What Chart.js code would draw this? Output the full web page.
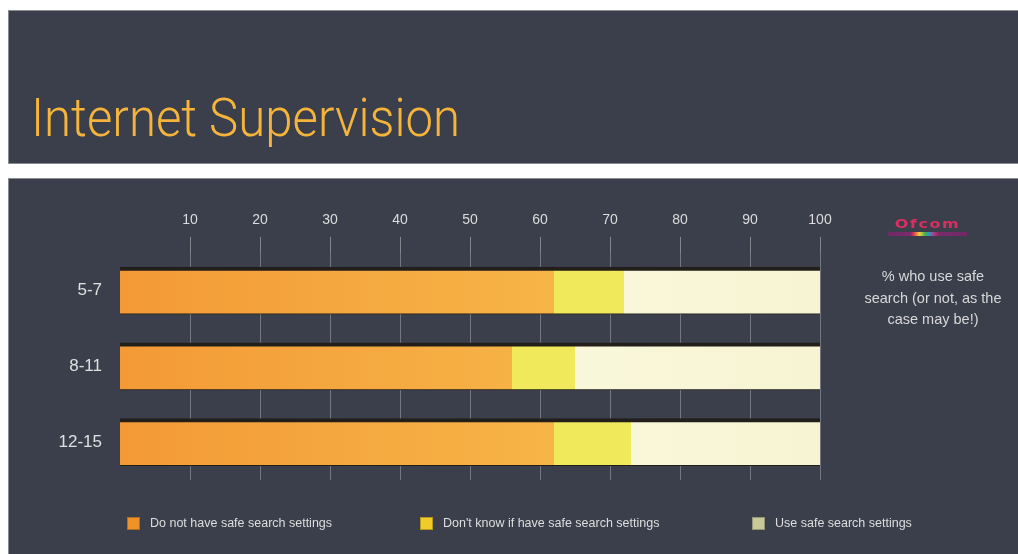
<!DOCTYPE html>
<html>
<head>
<meta charset="utf-8">
<script src="https://cdn.jsdelivr.net/npm/chart.js@4.4.1/dist/chart.umd.min.js"></script>
<style>
  html, body { margin: 0; padding: 0; background: #fff; }
  body { width: 1018px; height: 554px; position: relative; overflow: hidden; font-family: "Liberation Sans", Arial, sans-serif; }
  .panel { position: absolute; left: 8px; right: 0; background: #3b3f4c; border: 1px solid #8a8c94; border-right: none; }
  .top { top: 10px; height: 152px; }
  .bottom { top: 178px; height: 380px; border-bottom: none; }
  .title { position: absolute; left: 31px; top: 86px; font-family: Roboto, "Open Sans", sans-serif; font-weight: 300; font-size: 54px; color: #f6b53a; transform: scaleX(0.91); transform-origin: 0 0; white-space: nowrap; }
  #wrap { position: absolute; left: 8px; top: 178px; width: 1010px; height: 376px; }
  .logo { position: absolute; left: 888px; top: 216px; width: 79px; text-align: center; }
  .logo .word { font-family: "DejaVu Sans", sans-serif; font-weight: bold; font-size: 16px; color: #d62f60; letter-spacing: 1.6px; line-height: 16px; transform: scaleY(0.8); }
  .logo .bar { height: 4px; margin-top: 0; background: linear-gradient(90deg, #6f2a66 0%, #7b2a6c 28%, #d8344a 32%, #f1cf3a 40%, #3fb24f 47%, #2e8fd8 53%, #c23576 58%, #7b2a6c 64%, #6f2a66 100%); }
  .note { position: absolute; left: 853px; top: 266px; width: 160px; text-align: center; font-size: 14.5px; line-height: 21.5px; color: #d8d8d8; }
  #legend { position: absolute; top: 516px; left: 0; width: 1018px; height: 18px; }
  #legend .item { position: absolute; top: 0; display: flex; align-items: center; font-size: 12.5px; color: #dedede; white-space: nowrap; }
  #legend .sw { width: 13px; height: 13px; margin-right: 10px; box-sizing: border-box; border: 1px solid rgba(0,0,0,0.25); }
</style>
</head>
<body>
<div class="panel top"></div>
<div class="title">Internet Supervision</div>
<div class="panel bottom"></div>
<div id="wrap"><canvas id="chart" width="1010" height="376"></canvas></div>
<div class="logo"><div class="word">Ofcom</div><div class="bar"></div></div>
<div class="note">% who use safe<br>search (or not, as the<br>case may be!)</div>
<div id="legend"></div>
<script>
  // Age groups and share (%) of parents per answer.
  const ageGroups = ['5-7', '8-11', '12-15'];
  const noSafeSearch = [62, 56, 62];
  const dontKnow = [10, 9, 11];
  const useSafeSearch = [28, 35, 27];
  const xTicks = [10, 20, 30, 40, 50, 60, 70, 80, 90, 100];

  const seriesLabels = ['Do not have safe search settings', "Don't know if have safe search settings", 'Use safe search settings'];
  const swatchColors = ['#ef9228', '#f1cc29', '#c8c898'];
  const legendLeft = [127, 420, 752];

  // Horizontal gradient across the chart area, so the long bars get the
  // same light-to-lighter sheen as the reference.
  const grad = (from, to) => ctx => {
    const area = ctx.chart.chartArea;
    if (!area) return from;
    const g = ctx.chart.ctx.createLinearGradient(area.left, 0, area.right, 0);
    g.addColorStop(0, from);
    g.addColorStop(1, to);
    return g;
  };

  const barStyle = {
    borderColor: '#221e19',
    borderWidth: { top: 4, bottom: 1, left: 0, right: 0 },
    borderSkipped: false,
    barThickness: 47,
  };

  const chart = new Chart(document.getElementById('chart'), {
    type: 'bar',
    data: {
      labels: ageGroups,
      datasets: [
        { label: seriesLabels[0], data: noSafeSearch, backgroundColor: grad('#f39a36', '#f9c452'), ...barStyle },
        { label: seriesLabels[1], data: dontKnow, backgroundColor: '#f0e95b', ...barStyle },
        { label: seriesLabels[2], data: useSafeSearch, backgroundColor: grad('#fffeea', '#f6f4d2'), ...barStyle },
      ],
    },
    options: {
      indexAxis: 'y',
      responsive: false,
      animation: false,
      layout: { padding: { top: 26, right: 198, bottom: 74, left: 0 } },
      plugins: { legend: { display: false }, tooltip: { enabled: false } },
      scales: {
        x: {
          position: 'top',
          stacked: true,
          min: 0,
          max: 100,
          afterBuildTicks: s => { s.ticks = xTicks.map(v => ({ value: v })); },
          ticks: { color: '#dcdcdc', font: { size: 14, family: '"Liberation Sans", Arial, sans-serif' }, padding: 8 },
          grid: { color: 'rgba(175,175,180,0.5)', tickLength: 16, tickColor: 'rgba(180,180,185,0.6)' },
          border: { display: false },
        },
        y: {
          stacked: true,
          afterFit: s => { s.width = 112; },
          ticks: { color: '#e0e0e0', font: { size: 17, family: '"Liberation Sans", Arial, sans-serif' }, padding: 10 },
          grid: { display: false },
          border: { display: false },
        },
      },
    },
  });

  // Legend as plain HTML, built from the chart's own datasets.
  const legend = document.getElementById('legend');
  chart.data.datasets.forEach((ds, i) => {
    const item = document.createElement('div');
    item.className = 'item';
    item.style.left = legendLeft[i] + 'px';
    const sw = document.createElement('span');
    sw.className = 'sw';
    sw.style.background = swatchColors[i];
    item.append(sw, ds.label);
    legend.appendChild(item);
  });
</script>
</body>
</html>
